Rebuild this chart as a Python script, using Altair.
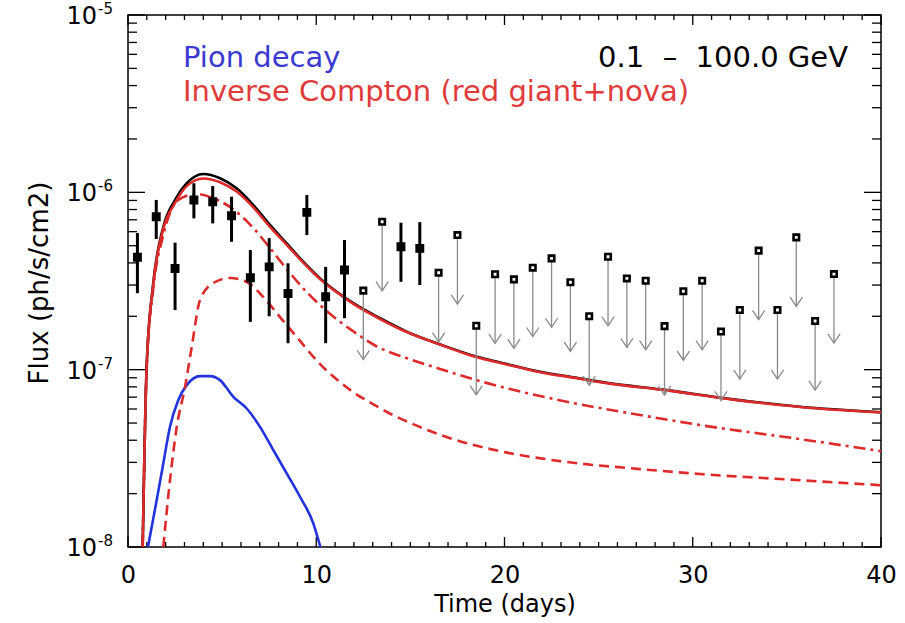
import altair as alt
import pandas as pd

FONT = "DejaVu Sans"
W, H = 753, 532

# ---------------- data ----------------
# detections (daily bins) with error bars
det_day = [0.5, 1.5, 2.5, 3.5, 4.5, 5.5, 6.5, 7.5, 8.5, 9.5, 10.5, 11.5, 14.5, 15.5]
det_flux = [4.30e-7, 7.28e-7, 3.72e-7, 9.06e-7, 8.85e-7, 7.38e-7, 3.30e-7, 3.80e-7,
            2.69e-7, 7.71e-7, 2.58e-7, 3.65e-7, 4.93e-7, 4.83e-7]
det_hi = [5.89e-7, 9.06e-7, 5.20e-7, 1.125e-6, 1.085e-6, 9.45e-7, 4.73e-7, 5.52e-7,
          3.98e-7, 9.66e-7, 3.80e-7, 5.38e-7, 6.74e-7, 6.79e-7]
det_lo = [2.70e-7, 5.46e-7, 2.17e-7, 7.13e-7, 6.68e-7, 5.26e-7, 1.86e-7, 2.00e-7,
          1.41e-7, 5.74e-7, 1.41e-7, 1.95e-7, 3.13e-7, 3.00e-7]

# upper limits
ul_day = [12.5, 13.5, 16.5, 17.5, 18.5, 19.5, 20.5, 21.5, 22.5, 23.5, 24.5, 25.5,
          26.5, 27.5, 28.5, 29.5, 30.5, 31.5, 32.5, 33.5, 34.5, 35.5, 36.5, 37.5]
ul_flux = [2.79e-7, 6.82e-7, 3.52e-7, 5.74e-7, 1.77e-7, 3.45e-7, 3.23e-7, 3.76e-7,
           4.24e-7, 3.11e-7, 2.00e-7, 4.33e-7, 3.27e-7, 3.17e-7, 1.76e-7, 2.77e-7,
           3.17e-7, 1.64e-7, 2.17e-7, 4.69e-7, 2.17e-7, 5.57e-7, 1.88e-7, 3.46e-7]
ARROW_FACTOR = 2.45  # arrow length (style)

# model curves
tot_day = [0.78, 0.99, 1.34, 1.88, 2.50, 3.12, 4.00, 4.89, 5.77, 6.66, 7.54, 8.43, 9.31,
           10.2, 11.09, 11.97, 13.39, 14.8, 16.57, 18.34, 20.12, 21.89, 23.65, 25.43,
           28.62, 32.15, 35.7, 40.0]
tot_flux = [1.0e-8, 1.04e-7, 3.07e-7, 6.40e-7, 9.06e-7, 1.125e-6, 1.268e-6, 1.20e-6,
            1.053e-6, 8.47e-7, 6.55e-7, 5.15e-7, 4.06e-7, 3.27e-7, 2.75e-7, 2.37e-7,
            1.95e-7, 1.64e-7, 1.39e-7, 1.20e-7, 1.076e-7, 9.73e-8, 9.06e-8, 8.43e-8,
            7.67e-8, 6.80e-8, 6.18e-8, 5.75e-8]
ic_flux = [1.0e-8, 1.02e-7, 3.02e-7, 6.24e-7, 8.71e-7, 1.084e-6, 1.197e-6, 1.14e-6,
           1.01e-6, 8.22e-7, 6.38e-7, 5.06e-7, 4.01e-7, 3.24e-7, 2.73e-7, 2.35e-7,
           1.93e-7, 1.63e-7, 1.385e-7, 1.19e-7, 1.07e-7, 9.68e-8, 9.02e-8, 8.40e-8,
           7.64e-8, 6.78e-8, 6.16e-8, 5.73e-8]

dd_day = [0.78, 0.99, 1.344, 1.875, 2.672, 3.649, 4.622, 5.509, 6.656, 7.543, 8.43,
          9.493, 10.555, 11.95, 13.17, 14.82, 16.57, 18.49, 20.29, 23.64, 27.2, 30.39,
          35.7, 40.0]
dd_flux = [1.0e-8, 1.02e-7, 2.88e-7, 5.74e-7, 9.05e-7, 9.78e-7, 9.17e-7, 8.15e-7,
           6.29e-7, 4.85e-7, 3.69e-7, 2.74e-7, 2.14e-7, 1.65e-7, 1.36e-7, 1.16e-7,
           1.01e-7, 8.74e-8, 7.78e-8, 6.49e-8, 5.55e-8, 4.87e-8, 4.06e-8, 3.47e-8]

da_day = [1.875, 2.231, 2.587, 3.028, 3.384, 3.825, 4.531, 5.418, 6.305, 7.187, 8.074,
          8.96, 10.2, 11.26, 11.95, 13.01, 13.76, 15.14, 17.1, 19.76, 22.95, 27.2,
          30.39, 35.7, 40.0]
da_flux = [1.0e-8, 2.38e-8, 4.74e-8, 7.97e-8, 1.34e-7, 2.47e-7, 3.08e-7, 3.29e-7,
           3.12e-7, 2.57e-7, 1.98e-7, 1.53e-7, 1.075e-7, 8.51e-8, 7.48e-8, 6.40e-8,
           5.77e-8, 4.93e-8, 4.11e-8, 3.47e-8, 3.05e-8, 2.75e-8, 2.58e-8, 2.38e-8,
           2.23e-8]

pion_day = [1.06, 1.525, 1.875, 2.231, 2.672, 3.118, 3.825, 4.356, 4.887, 5.594, 6.305,
            7.012, 7.72, 8.43, 9.136, 9.843, 10.22]
pion_flux = [1.0e-8, 1.84e-8, 2.96e-8, 4.76e-8, 6.74e-8, 8.18e-8, 9.20e-8, 9.20e-8,
             8.73e-8, 7.03e-8, 6.04e-8, 4.76e-8, 3.52e-8, 2.60e-8, 1.92e-8, 1.36e-8,
             1.0e-8]

x_labels = [0, 10, 20, 30, 40]
y_decades = [1e-8, 1e-7, 1e-6, 1e-5]
y_exps = ["-8", "-7", "-6", "-5"]
x_minor = [d for d in range(1, 40) if d % 10 != 0]
y_minor = [m * d for d in [1e-8, 1e-7, 1e-6] for m in range(2, 10)]

BLUE = "#2233dd"
RED = "#dd2a2a"

# ---------------- scales / helpers ----------------
xs = alt.Scale(domain=[0, 40], nice=False, zero=False)
ys = alt.Scale(type="log", domain=[1e-8, 1e-5], nice=False)
xax = alt.Axis(values=x_labels, ticks=False, domain=False, grid=False, format="d",
               labelFlush=False, labelOverlap=False,
               labelFont=FONT, labelFontSize=24, labelColor="black", labelPadding=16,
               title="Time (days)", titleFont=FONT, titleFontSize=24,
               titleFontWeight="normal", titleColor="black", titlePadding=5)


def X(f):
    return alt.X(f, type="quantitative", scale=xs, axis=xax)


def Y(f):
    return alt.Y(f, type="quantitative", scale=ys, axis=None)


def curve(days, flux, color, dash=None, width=2.6):
    df = pd.DataFrame({"day": days, "flux": flux})
    kw = dict(color=color, strokeWidth=width, clip=True, interpolate="monotone")
    if dash:
        kw["strokeDash"] = dash
    return alt.Chart(df).mark_line(**kw).encode(x=X("day"), y=Y("flux"), order="day:Q")


layers = []
# ticks (inside, all four sides)
xmaj = pd.DataFrame({"v": x_labels})
xmin = pd.DataFrame({"v": x_minor})
ymaj = pd.DataFrame({"v": y_decades})
ymin = pd.DataFrame({"v": y_minor})
tk = dict(color="black", strokeWidth=1.3)
for df, ln in [(xmaj, 10), (xmin, 5)]:
    layers.append(alt.Chart(df).mark_rule(**tk).encode(x=X("v"), y=alt.value(H), y2=alt.value(H - ln)))
    layers.append(alt.Chart(df).mark_rule(**tk).encode(x=X("v"), y=alt.value(0), y2=alt.value(ln)))
for df, ln in [(ymaj, 17), (ymin, 9)]:
    layers.append(alt.Chart(df).mark_rule(**tk).encode(y=Y("v"), x=alt.value(0), x2=alt.value(ln)))
    layers.append(alt.Chart(df).mark_rule(**tk).encode(y=Y("v"), x=alt.value(W - ln), x2=alt.value(W)))

# curves
layers.append(curve(pion_day, pion_flux, BLUE))
layers.append(curve(da_day, da_flux, RED, dash=[10, 6]))
layers.append(curve(dd_day, dd_flux, RED, dash=[12, 5, 3, 5]))
layers.append(curve(tot_day, tot_flux, "black"))
layers.append(curve(tot_day, ic_flux, RED))

# upper limits
ul = pd.DataFrame({"day": ul_day, "flux": ul_flux})
ul["tip"] = ul["flux"] / ARROW_FACTOR
layers.append(alt.Chart(ul).mark_rule(color="#8a8a8a", strokeWidth=1.3).encode(
    x=X("day"), y=Y("flux"), y2="tip:Q"))
layers.append(alt.Chart(ul).mark_point(shape="M-1,-1.5L0,0L1,-1.5", filled=False,
                                       stroke="#8a8a8a", strokeWidth=1.3, size=150,
                                       opacity=1).encode(x=X("day"), y=Y("tip")))
layers.append(alt.Chart(ul).mark_point(shape="square", filled=True, fill="white",
                                       stroke="black", strokeWidth=2.6, size=30,
                                       opacity=1).encode(x=X("day"), y=Y("flux")))

# detections
det = pd.DataFrame({"day": det_day, "flux": det_flux, "lo": det_lo, "hi": det_hi})
layers.append(alt.Chart(det).mark_rule(color="black", strokeWidth=3).encode(
    x=X("day"), y=Y("lo"), y2="hi:Q"))
layers.append(alt.Chart(det).mark_point(shape="square", filled=True, fill="black",
                                        stroke="black", strokeWidth=1.5, size=55,
                                        opacity=1).encode(x=X("day"), y=Y("flux")))

# y tick labels (10 with superscript)
yl = pd.DataFrame({"v": y_decades, "sup": y_exps, "ten": ["10"] * 4})
layers.append(alt.Chart(yl).mark_text(font=FONT, fontSize=24, align="right", baseline="middle",
                                      color="black", dy=2).encode(
    y=Y("v"), x=alt.value(-31), text="ten:N"))
layers.append(alt.Chart(yl).mark_text(font=FONT, fontSize=15, align="left", baseline="middle",
                                      color="black", dy=-6).encode(
    y=Y("v"), x=alt.value(-30), text="sup:N"))

# y title
layers.append(alt.Chart(pd.DataFrame({"t": ["Flux (ph/s/cm2)"]})).mark_text(
    font=FONT, fontSize=26, angle=270, align="center", baseline="middle", color="black").encode(
    x=alt.value(-88), y=alt.value(268), text="t:N"))

# legend texts
layers.append(alt.Chart(pd.DataFrame({"t": ["Pion decay"]})).mark_text(
    font=FONT, fontSize=29, align="left", baseline="alphabetic", color="#3a3ad0").encode(
    x=alt.value(55), y=alt.value(52), text="t:N"))
layers.append(alt.Chart(pd.DataFrame({"t": ["Inverse Compton (red giant+nova)"]})).mark_text(
    font=FONT, fontSize=29, align="left", baseline="alphabetic", color="#e03a3a").encode(
    x=alt.value(55), y=alt.value(86), text="t:N"))
layers.append(alt.Chart(pd.DataFrame({"t": ["0.1\u00a0\u00a0\u2013\u00a0\u00a0100.0 GeV"]})).mark_text(
    font=FONT, fontSize=29, align="right", baseline="alphabetic", color="black").encode(
    x=alt.value(720), y=alt.value(52), text="t:N"))

chart = alt.layer(*layers).properties(
    width=W, height=H,
    padding={"left": 128, "top": 15, "right": 24, "bottom": 76},
    autosize=alt.AutoSizeParams(type="none"),
    background="white",
).configure_view(stroke="black", strokeWidth=1.5)

chart.save("out.html", embed_options={"renderer": "svg", "actions": False})
